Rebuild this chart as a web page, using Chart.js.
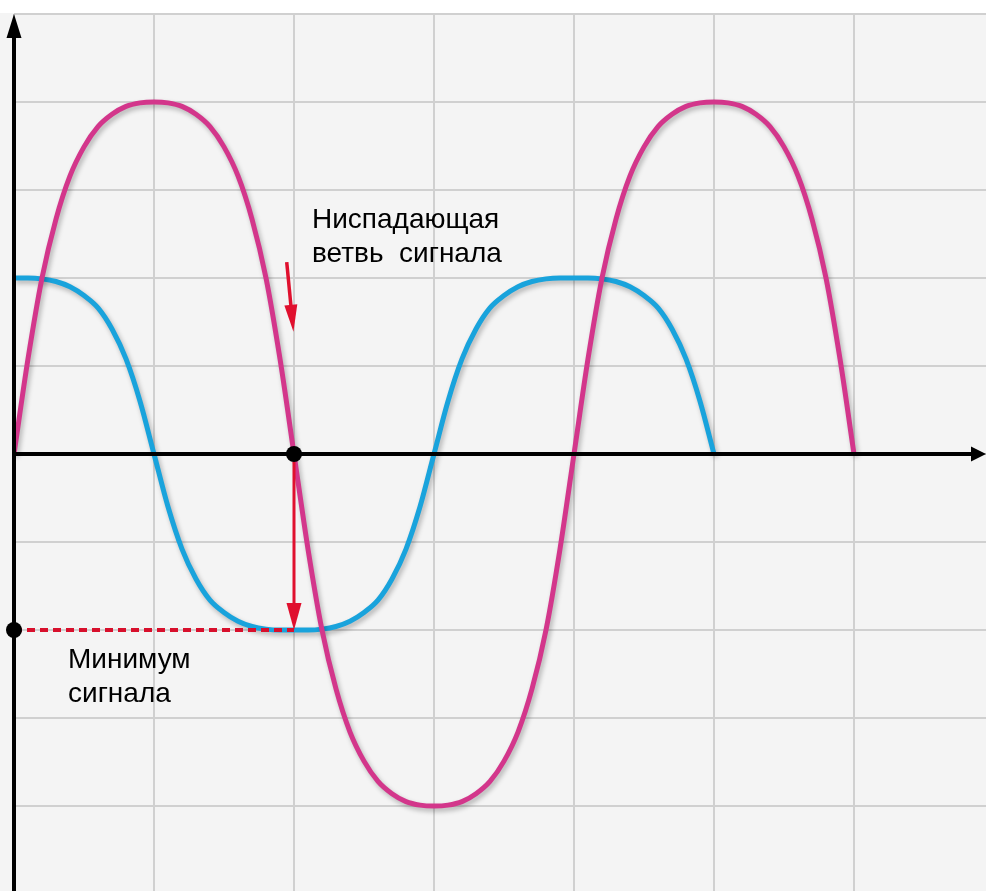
<!DOCTYPE html>
<html>
<head>
<meta charset="utf-8">
<script src="https://cdn.jsdelivr.net/npm/chart.js@4.4.1/dist/chart.umd.min.js"></script>
<style>
  html, body { margin: 0; padding: 0; background: #fff; }
  #wrap { width: 986px; height: 891px; }
</style>
</head>
<body>
<div id="wrap"><canvas id="waveChart"></canvas></div>
<script>
// sample positions, in grid cells along the time axis
const xValues = [
  0, 0.1, 0.2, 0.3, 0.4, 0.5, 0.6, 0.7, 0.8, 0.9, 1,
  1.1, 1.2, 1.3, 1.4, 1.5, 1.6, 1.7, 1.8, 1.9, 2,
  2.1, 2.2, 2.3, 2.4, 2.5, 2.6, 2.7, 2.8, 2.9, 3,
  3.1, 3.2, 3.3, 3.4, 3.5, 3.6, 3.7, 3.8, 3.9, 4,
  4.1, 4.2, 4.3, 4.4, 4.5, 4.6, 4.7, 4.8, 4.9, 5,
  5.1, 5.2, 5.3, 5.4, 5.5, 5.6, 5.7, 5.8, 5.9, 6];

// pink signal, amplitude 4 cells
const pinkY = [
  0, 1.08, 2.0, 2.67, 3.16, 3.49, 3.72, 3.86, 3.95, 3.99, 4,
  3.99, 3.95, 3.86, 3.72, 3.49, 3.16, 2.67, 2.0, 1.08, 0,
  -1.08, -2.0, -2.67, -3.16, -3.49, -3.72, -3.86, -3.95, -3.99, -4,
  -3.99, -3.95, -3.86, -3.72, -3.49, -3.16, -2.67, -2.0, -1.08, 0,
  1.08, 2.0, 2.67, 3.16, 3.49, 3.72, 3.86, 3.95, 3.99, 4,
  3.99, 3.95, 3.86, 3.72, 3.49, 3.16, 2.67, 2.0, 1.08, 0];

// blue signal, amplitude 2 cells, stops at x = 5
const blueY = [
  2, 2, 1.99, 1.96, 1.9, 1.8, 1.66, 1.42, 1.08, 0.6, 0,
  -0.6, -1.08, -1.42, -1.66, -1.8, -1.9, -1.96, -1.99, -2, -2,
  -2, -1.99, -1.96, -1.9, -1.8, -1.66, -1.42, -1.08, -0.6, 0,
  0.6, 1.08, 1.42, 1.66, 1.8, 1.9, 1.96, 1.99, 2, 2,
  2, 1.99, 1.96, 1.9, 1.8, 1.66, 1.42, 1.08, 0.6, 0];

// marked points: zero crossing of the falling edge and the blue minimum
const crossPoint = [2, 0];
const minLevel = -2;
const slopeArrow = [[1.948, 2.18], [1.996, 1.39]];

const topLabel = ['Ниспадающая', 'ветвь  сигнала'];
const bottomLabel = ['Минимум', 'сигнала'];

const toPoints = (xs, ys) => ys.map((y, i) => ({ x: xs[i], y: y }));

function arrowHead(ctx, x1, y1, x2, y2, len, half) {
  const a = Math.atan2(y2 - y1, x2 - x1);
  ctx.beginPath();
  ctx.moveTo(x2, y2);
  ctx.lineTo(x2 - len * Math.cos(a) + half * Math.sin(a), y2 - len * Math.sin(a) - half * Math.cos(a));
  ctx.lineTo(x2 - len * Math.cos(a) - half * Math.sin(a), y2 - len * Math.sin(a) + half * Math.cos(a));
  ctx.closePath();
  ctx.fill();
}

function arrow(ctx, x1, y1, x2, y2, color, width, len, half) {
  const a = Math.atan2(y2 - y1, x2 - x1);
  ctx.strokeStyle = color;
  ctx.fillStyle = color;
  ctx.lineWidth = width;
  ctx.beginPath();
  ctx.moveTo(x1, y1);
  ctx.lineTo(x2 - (len - 2) * Math.cos(a), y2 - (len - 2) * Math.sin(a));
  ctx.stroke();
  arrowHead(ctx, x1, y1, x2, y2, len, half);
}

function dot(ctx, x, y) {
  ctx.fillStyle = '#000';
  ctx.beginPath();
  ctx.arc(x, y, 8, 0, Math.PI * 2);
  ctx.fill();
}

const decor = {
  id: 'decor',
  beforeDraw(chart) {
    const { ctx, width, height } = chart;
    ctx.save();
    ctx.fillStyle = '#ffffff';
    ctx.fillRect(0, 0, width, height);
    ctx.fillStyle = '#f4f4f4';
    ctx.fillRect(0, 13, width, height - 13);
    ctx.restore();
  },
  beforeDatasetsDraw(chart) {
    // soft drop shadow under the curves
    const ctx = chart.ctx;
    ctx.save();
    ctx.shadowColor = 'rgba(0, 0, 0, 0.28)';
    ctx.shadowBlur = 5;
    ctx.shadowOffsetX = 2;
    ctx.shadowOffsetY = 3;
  },
  afterDatasetsDraw(chart) {
    const ctx = chart.ctx;
    ctx.restore();

    const xs = chart.scales.x, ys = chart.scales.y;
    const x0 = xs.getPixelForValue(0), y0 = ys.getPixelForValue(0);
    const W = chart.width, H = chart.height;
    ctx.save();

    // axes with arrows
    ctx.strokeStyle = '#000';
    ctx.fillStyle = '#000';
    ctx.lineWidth = 4;
    ctx.beginPath();
    ctx.moveTo(x0, H);
    ctx.lineTo(x0, 36);
    ctx.moveTo(x0, y0);
    ctx.lineTo(W - 14, y0);
    ctx.stroke();
    arrowHead(ctx, x0, H, x0, 14, 24, 7.5);
    arrowHead(ctx, x0, y0, W, y0, 15, 7.5);

    // dashed level of the minimum
    const cx = xs.getPixelForValue(crossPoint[0]);
    const cy = ys.getPixelForValue(crossPoint[1]);
    const my = ys.getPixelForValue(minLevel);
    ctx.strokeStyle = '#d8102c';
    ctx.lineWidth = 4;
    ctx.setLineDash([8, 5]);
    ctx.beginPath();
    ctx.moveTo(x0, my);
    ctx.lineTo(cx, my);
    ctx.stroke();
    ctx.setLineDash([]);

    // arrows
    arrow(ctx, cx, cy + 8, cx, my, '#e0102e', 3, 27, 7.5);
    arrow(ctx,
      xs.getPixelForValue(slopeArrow[0][0]), ys.getPixelForValue(slopeArrow[0][1]),
      xs.getPixelForValue(slopeArrow[1][0]), ys.getPixelForValue(slopeArrow[1][1]),
      '#e0102e', 3.5, 27, 6.5);

    dot(ctx, cx, cy);
    dot(ctx, x0, my);

    // captions
    ctx.fillStyle = '#000';
    ctx.font = "28px 'Liberation Sans', Arial, sans-serif";
    ctx.textBaseline = 'alphabetic';
    ctx.fillText(topLabel[0], 312, 228);
    ctx.fillText(topLabel[1], 312, 262);
    ctx.fillText(bottomLabel[0], 68, 668);
    ctx.fillText(bottomLabel[1], 68, 702);
    ctx.restore();
  }
};

const grid = {
  color: '#d0d0d0',
  lineWidth: 2,
  drawTicks: false
};

new Chart(document.getElementById('waveChart'), {
  type: 'line',
  data: {
    datasets: [
      {
        label: 'pink',
        data: toPoints(xValues, pinkY),
        borderColor: '#d3368b',
        borderWidth: 5,
        pointRadius: 0,
        cubicInterpolationMode: 'monotone',
        fill: false
      },
      {
        label: 'blue',
        data: toPoints(xValues, blueY),
        borderColor: '#19a3dc',
        borderWidth: 5,
        pointRadius: 0,
        cubicInterpolationMode: 'monotone',
        fill: false
      }
    ]
  },
  options: {
    responsive: true,
    maintainAspectRatio: false,
    animation: false,
    layout: { padding: { left: 14, top: 14, right: 0, bottom: 0 } },
    plugins: {
      legend: { display: false },
      tooltip: { enabled: false }
    },
    scales: {
      x: {
        type: 'linear',
        min: 0,
        max: 972 / 140,
        grid: grid,
        border: { display: false },
        ticks: { display: false, stepSize: 1, includeBounds: false }
      },
      y: {
        min: -877 / 88 + 5,
        max: 5,
        grid: grid,
        border: { display: false },
        ticks: { display: false, stepSize: 1, includeBounds: false }
      }
    }
  },
  plugins: [decor]
});
</script>
</body>
</html>
